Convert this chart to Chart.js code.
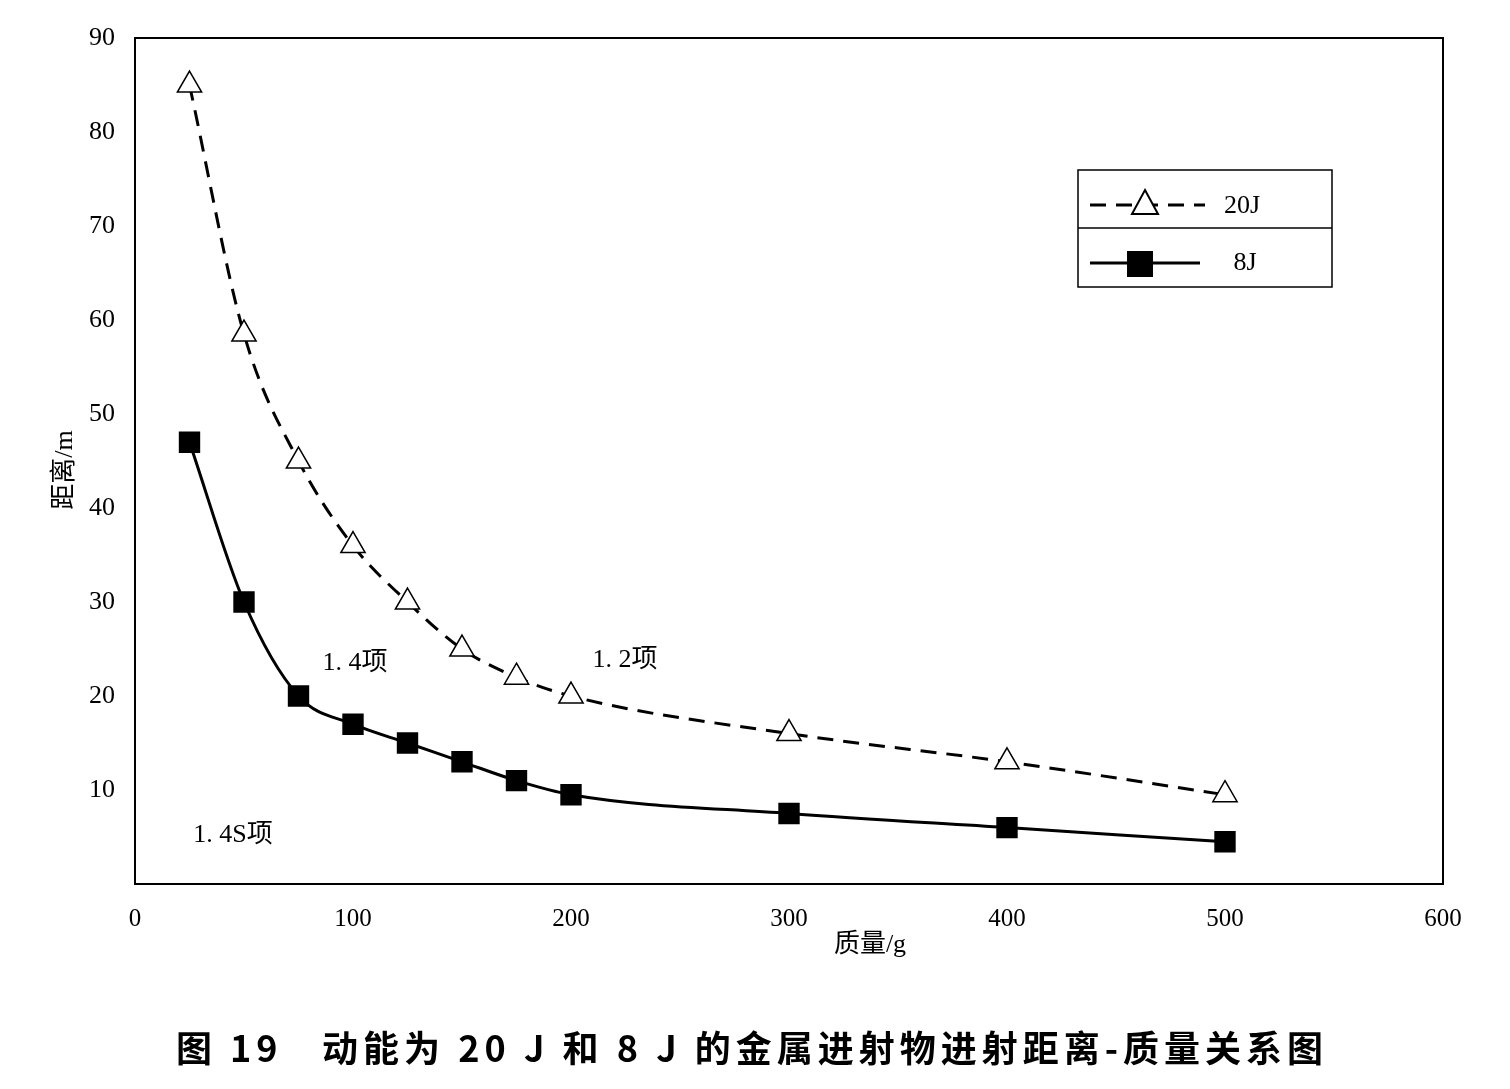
<!DOCTYPE html>
<html><head><meta charset="utf-8">
<script src="https://cdn.jsdelivr.net/npm/chart.js@4"></script>
<style>body{margin:0;background:#fff}</style>
</head><body>
<canvas id="c" width="1510" height="1089"></canvas>
<script>
const masses = [25, 50, 75, 100, 125, 150, 175, 200, 300, 400, 500];
const dist20J = [85, 58.5, 45, 36, 30, 25, 22, 20, 16, 13, 9.5];
const dist8J = [47, 30, 20, 17, 15, 13, 11, 9.5, 7.5, 6, 4.5];
const notes = [
  { text: '1. 4项', x: 355, y: 663 },
  { text: '1. 2项', x: 625, y: 660 },
  { text: '1. 4S项', x: 233, y: 835 },
];
const FONT = '"Liberation Serif", "Noto Sans CJK SC", serif';

function pts(ys) { return masses.map((m, i) => ({ x: m, y: ys[i] })); }

// border, legend, labels, caption
const extras = {
  id: 'extras',
  afterDraw(chart) {
    const ctx = chart.ctx, a = chart.chartArea;
    ctx.save();
    ctx.strokeStyle = '#000'; ctx.lineWidth = 2;
    ctx.strokeRect(a.left, a.top, a.right - a.left, a.bottom - a.top);
    ctx.fillStyle = '#000';
    ctx.font = '26px ' + FONT;
    ctx.textAlign = 'center'; ctx.textBaseline = 'middle';
    notes.forEach(n => ctx.fillText(n.text, n.x, n.y));
    // axis titles
    ctx.fillText('质量/g', 870, 945);
    ctx.save(); ctx.translate(65, 470); ctx.rotate(-Math.PI / 2);
    ctx.fillText('距离/m', 0, 0); ctx.restore();
    // legend
    ctx.lineWidth = 1.5;
    ctx.strokeRect(1078, 170, 254, 117);
    ctx.beginPath(); ctx.moveTo(1078, 228); ctx.lineTo(1332, 228); ctx.stroke();
    ctx.lineWidth = 3;
    ctx.setLineDash([16, 10]);
    ctx.beginPath(); ctx.moveTo(1090, 205); ctx.lineTo(1205, 205); ctx.stroke();
    ctx.setLineDash([]);
    ctx.beginPath(); ctx.moveTo(1090, 263); ctx.lineTo(1200, 263); ctx.stroke();
    ctx.fillStyle = '#fff'; ctx.lineWidth = 2;
    ctx.beginPath(); ctx.moveTo(1145, 190); ctx.lineTo(1158, 214); ctx.lineTo(1132, 214); ctx.closePath();
    ctx.fill(); ctx.stroke();
    ctx.fillStyle = '#000';
    ctx.fillRect(1127, 251, 26, 26);
    ctx.font = '26px ' + FONT;
    ctx.fillText('20J', 1242, 206);
    ctx.fillText('8J', 1245, 263);
    // caption
    ctx.font = 'bold 36px "Noto Sans CJK SC", sans-serif';
    ctx.letterSpacing = '5px';
    ctx.fillText('图 19   动能为 20 J 和 8 J 的金属进射物进射距离-质量关系图', 752, 1048);
    ctx.restore();
  }
};

new Chart('c', {
  type: 'line',
  data: {
    datasets: [
      {
        label: '20J', data: pts(dist20J), borderColor: '#000', borderWidth: 3,
        borderDash: [16, 10], pointStyle: 'triangle', pointRadius: 14,
        pointBackgroundColor: '#fff', pointBorderColor: '#000', pointBorderWidth: 1.5,
        cubicInterpolationMode: 'monotone'
      },
      {
        label: '8J', data: pts(dist8J), borderColor: '#000', borderWidth: 3,
        pointStyle: 'rect', pointRadius: 13, pointBackgroundColor: '#000',
        pointBorderColor: '#000', cubicInterpolationMode: 'monotone'
      }
    ]
  },
  options: {
    responsive: false, animation: false,
    layout: { padding: { left: 40, right: 67, top: 38, bottom: 135 } },
    plugins: { legend: { display: false }, tooltip: { enabled: false } },
    scales: {
      x: {
        type: 'linear', min: 0, max: 600,
        grid: { display: false }, border: { display: false },
        afterFit: s => { s.height = 70; },
        ticks: { stepSize: 100, color: '#000', font: { size: 25, family: FONT }, padding: 12 }
      },
      y: {
        min: 0, max: 90,
        grid: { display: false }, border: { display: false },
        afterFit: s => { s.width = 95; },
        ticks: {
          stepSize: 10, color: '#000', font: { size: 26, family: FONT }, padding: 12,
          callback: v => v === 0 ? '' : v
        }
      }
    }
  },
  plugins: [extras]
});
</script>
</body></html>
